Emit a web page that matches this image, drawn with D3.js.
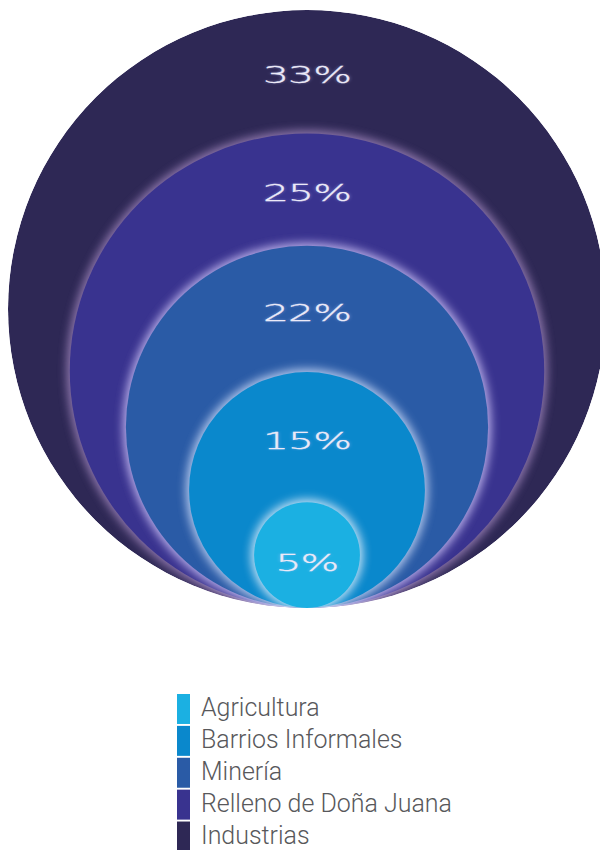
<!DOCTYPE html>
<html>
<head>
<meta charset="utf-8">
<script src="https://cdn.jsdelivr.net/npm/d3@7"></script>
<style>
  html, body { margin: 0; padding: 0; background: #ffffff; }
  svg { display: block; }
</style>
</head>
<body>
<svg id="chart" width="600" height="850"></svg>
<script>
// Sources, innermost first
const categories = ["Agricultura", "Barrios Informales", "Minería", "Relleno de Doña Juana", "Industrias"];
const values = [5, 15, 22, 25, 33];
const colors = ["#1bb0e2", "#0a88cc", "#2a5ba6", "#39338f", "#2e2855"];
const glowColors = ["#eef6ff", "#d6e4ff", "#d8ccff", "#a88cc4", null];

const svg = d3.select("#chart");
const cx = 307;       // shared horizontal centre
const baseY = 608;    // every circle rests on this line

// Each circle encloses its own share plus all inner shares
const cumulative = Array.from(d3.cumsum(values));
const r = d3.scalePow().exponent(0.578).domain([0, d3.sum(values)]).range([0, 299]);

const defs = svg.append("defs");
defs.append("filter")
  .attr("id", "glow")
  .attr("x", "-20%").attr("y", "-20%").attr("width", "140%").attr("height", "140%")
  .append("feGaussianBlur").attr("stdDeviation", 5);
defs.append("filter")
  .attr("id", "textGlow")
  .attr("x", "-20%").attr("y", "-40%").attr("width", "140%").attr("height", "180%")
  .append("feGaussianBlur").attr("stdDeviation", 1.2);
defs.append("clipPath").attr("id", "outerClip")
  .append("circle")
  .attr("cx", cx).attr("cy", baseY - r(cumulative[cumulative.length - 1]))
  .attr("r", r(cumulative[cumulative.length - 1]));

const rings = d3.range(values.length).reverse(); // draw largest first
const g = svg.append("g").attr("clip-path", "url(#outerClip)");

rings.forEach(i => {
  const rad = r(cumulative[i]);
  if (glowColors[i]) {
    g.append("circle")
      .attr("cx", cx).attr("cy", baseY - rad)
      .attr("r", rad + 3)
      .attr("fill", glowColors[i])
      .attr("opacity", 0.8)
      .attr("filter", "url(#glow)");
  }
  g.append("circle")
    .attr("cx", cx).attr("cy", baseY - rad)
    .attr("r", rad)
    .attr("fill", colors[i]);
});

// Percentage labels: placed in the visible band of each ring
const labelY = i => {
  const rad = r(cumulative[i]);
  if (i === 0) return baseY - rad + 8;
  const inner = r(cumulative[i - 1]);
  return baseY - rad - inner + (rad - inner) * 0.06;
};

const labels = svg.append("g");
[true, false].forEach(isGlow => {
  labels.selectAll(null)
    .data(values)
    .join("text")
    .attr("transform", (d, i) => `translate(${cx},${labelY(i)}) scale(1.7,0.95)`)
    .attr("text-anchor", "middle")
    .attr("dominant-baseline", "central")
    .attr("font-family", "'DejaVu Sans', sans-serif")
    .attr("font-weight", 200)
    .attr("font-size", 24)
    .attr("letter-spacing", -0.5)
    .attr("fill", isGlow ? "#b9c4ff" : "#eceaf8")
    .attr("stroke", isGlow ? null : "#eceaf8")
    .attr("stroke-width", isGlow ? null : 0.35)
    .attr("opacity", isGlow ? 0.6 : 1)
    .attr("filter", isGlow ? "url(#textGlow)" : null)
    .text(d => d + "%");
});

// Legend
const legend = svg.append("g").attr("transform", "translate(177,694)");
const row = d3.scaleBand().domain(categories).range([0, 157.5]).paddingInner(0.06).paddingOuter(0);

const items = legend.selectAll("g.item")
  .data(categories)
  .join("g")
  .attr("class", "item")
  .attr("transform", d => `translate(0,${row.step() * categories.indexOf(d)})`);

items.append("rect")
  .attr("width", 13)
  .attr("height", row.bandwidth())
  .attr("fill", (d, i) => colors[i]);

items.append("text")
  .attr("transform", "translate(24,22) scale(0.96,1)")
  .attr("font-family", "Roboto, 'DejaVu Sans', sans-serif")
  .attr("font-weight", 300)
  .attr("font-size", 26)
  .attr("fill", "#58585b")
  .text(d => d);
</script>
</body>
</html>
